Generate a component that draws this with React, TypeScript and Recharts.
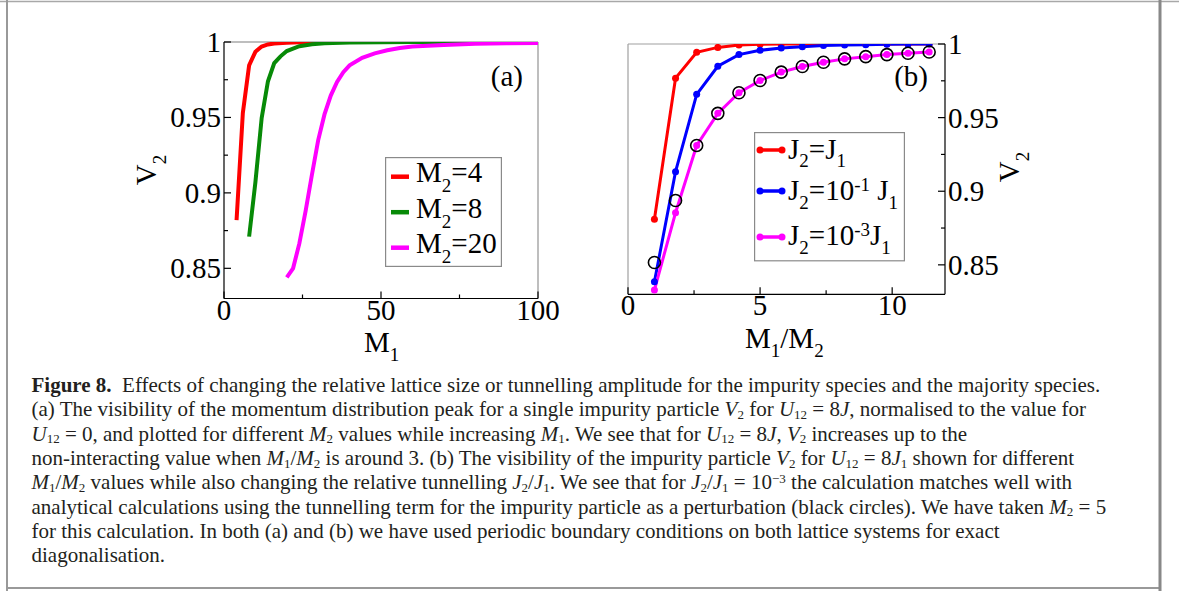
import { Legend, Line, LineChart, ReferenceLine, XAxis, YAxis } from "recharts";

const FONT = "'Liberation Serif', 'Times New Roman', serif";

// panel (a): V2 against M1 for different M2
const m1Red = [4, 6, 8, 10, 12, 14, 16, 20, 24, 30, 40, 60, 80, 100];
const v2Red = [0.882, 0.953, 0.9845, 0.9935, 0.997, 0.9984, 0.999, 0.9995, 0.9998, 1, 1, 1, 1, 1];
const m1Green = [8, 10, 12, 14, 16, 18, 20, 24, 28, 32, 40, 50, 60, 80, 100];
const v2Green = [0.871, 0.907, 0.9497, 0.974, 0.986, 0.9905, 0.994, 0.9972, 0.9985, 0.9991, 0.9996, 0.9998, 1, 1, 1];
const m1Magenta = [20, 22, 24, 26, 28, 30, 32, 34, 36, 38, 40, 44, 48, 52, 56, 60, 70, 80, 90, 100];
const v2Magenta = [
  0.844, 0.85, 0.8665, 0.888, 0.912, 0.935, 0.952, 0.9645, 0.9735, 0.98, 0.9845, 0.9895, 0.9925,
  0.9945, 0.996, 0.997, 0.998, 0.9988, 0.9991, 0.9993,
];

// panel (b): V2 against M1/M2 (M2 = 5) for different J2/J1
const ratio = [1, 1.8, 2.6, 3.4, 4.2, 5, 5.8, 6.6, 7.4, 8.2, 9, 9.8, 10.6, 11.4];
const vJ1 = [0.881, 0.9768, 0.9944, 0.9977, 0.9993, 0.9998, 1, 1, 1, 1, 1, 1, 1, 1];
const vJ1e1 = [0.8385, 0.9133, 0.9658, 0.9849, 0.9928, 0.9957, 0.9973, 0.9982, 0.9989, 0.9993, 0.9995, 0.9998, 1, 1];
const vJ1e3 = [0.8329, 0.8854, 0.9311, 0.9529, 0.9669, 0.9752, 0.9809, 0.9847, 0.9876, 0.9899, 0.9914, 0.9928, 0.9937, 0.9946];
const vPert = [0.8516, 0.8937, 0.9311, 0.9529, 0.9669, 0.9752, 0.9809, 0.9847, 0.9876, 0.9899, 0.9914, 0.9928, 0.9937, 0.9946];

const yTicks = [0.85, 0.875, 0.9, 0.925, 0.95, 0.975, 1];
const yLabels = ["0.85", "", "0.9", "", "0.95", "", "1"];
const xTicksA = [0, 25, 50, 75, 100];
const xLabelsA = ["0", "", "50", "", "100"];
const xTicksB = [0, 2.5, 5, 7.5, 10];
const xLabelsB = ["0", "", "5", "", "10"];

const seriesA = [
  { m2: "4", color: "#ff0000", xs: m1Red, ys: v2Red },
  { m2: "8", color: "#078a07", xs: m1Green, ys: v2Green },
  { m2: "20", color: "#ff00ff", xs: m1Magenta, ys: v2Magenta },
];

const dataB = ratio.map((x, i) => ({ x, j1: vJ1[i], j1e1: vJ1e1[i], j1e3: vJ1e3[i], pert: vPert[i] }));

const BIG = 29;

type Seg = string | { t: string; i?: boolean; b?: boolean; sub?: boolean; sup?: boolean };

function Rich({ x, y, size, segs, subSize, subDy, supDy = 0, anchor, transform, fill = "#000" }: any) {
  let cur = 0;
  return (
    <text
      x={x}
      y={y}
      fontSize={size}
      fontFamily={FONT}
      fill={fill}
      textAnchor={anchor}
      transform={transform}
      style={{ whiteSpace: "pre" }}
    >
      {segs.map((s: Seg, k: number) => {
        const g = typeof s === "string" ? { t: s } : s;
        const target = g.sub ? subDy : g.sup ? supDy : 0;
        const dy = target - cur;
        cur = target;
        return (
          <tspan
            key={k}
            dy={dy || undefined}
            fontStyle={g.i ? "italic" : undefined}
            fontWeight={g.b ? "bold" : undefined}
            fontSize={g.sub || g.sup ? subSize : undefined}
          >
            {g.t}
          </tspan>
        );
      })}
    </text>
  );
}

// tick marks point into the plot, minor ones shorter
const makeYTick = (axisX: number, dir: number) => (props: any) => {
  const { y, payload } = props;
  const i = yTicks.indexOf(payload.value);
  const label = yLabels[i];
  return (
    <g>
      <line x1={axisX} x2={axisX + dir * (label ? 7 : 4)} y1={y} y2={y} stroke="#000" strokeWidth={1.2} />
      {label && (
        <text
          x={axisX - dir * 3}
          y={y + 10}
          textAnchor={dir > 0 ? "end" : "start"}
          fontSize={BIG}
          fontFamily={FONT}
          fill="#000"
        >
          {label}
        </text>
      )}
    </g>
  );
};

const makeXTick = (axisY: number, ticks: number[], labels: string[]) => (props: any) => {
  const { x, payload } = props;
  const label = labels[ticks.indexOf(payload.value)];
  return (
    <g>
      <line x1={x} x2={x} y1={axisY} y2={axisY - (label ? 7 : 4)} stroke="#000" strokeWidth={1.2} />
      {label && (
        <text x={x} y={axisY + 21} textAnchor="middle" fontSize={BIG} fontFamily={FONT} fill="#000">
          {label}
        </text>
      )}
    </g>
  );
};

const LegendA = () => (
  <svg width={117} height={110} style={{ display: "block" }}>
    <rect x={0.6} y={0.6} width={115.8} height={108.8} fill="#fff" stroke="#8a8a8a" strokeWidth={1.2} />
    {seriesA.map((s, k) => (
      <g key={s.m2}>
        <line x1={6} x2={24} y1={19.7 + 35.5 * k} y2={19.7 + 35.5 * k} stroke={s.color} strokeWidth={4.5} />
        <Rich x={31} y={25 + 35.5 * k} size={BIG} subSize={19} subDy={10} segs={["M", { t: "2", sub: true }, "=" + s.m2]} />
      </g>
    ))}
  </svg>
);

const legendB = [
  { color: "#ff0000", y: 18, base: 26.5, segs: ["J", { t: "2", sub: true }, "=J", { t: "1", sub: true }] },
  {
    color: "#0000ff",
    y: 59,
    base: 68,
    segs: ["J", { t: "2", sub: true }, "=10", { t: "-1", sup: true }, " J", { t: "1", sub: true }],
  },
  {
    color: "#ff00ff",
    y: 105,
    base: 113,
    segs: ["J", { t: "2", sub: true }, "=10", { t: "-3", sup: true }, "J", { t: "1", sub: true }],
  },
];

const LegendB = () => (
  <svg width={151} height={130} style={{ display: "block" }}>
    <rect x={0.6} y={0.6} width={149.8} height={128.2} fill="#fff" stroke="#8a8a8a" strokeWidth={1.2} />
    {legendB.map((r, k) => (
      <g key={k}>
        <line x1={6} x2={28} y1={r.y} y2={r.y} stroke={r.color} strokeWidth={3.5} />
        <circle cx={6} cy={r.y} r={3.5} fill={r.color} />
        <circle cx={28} cy={r.y} r={3.5} fill={r.color} />
        <Rich x={34} y={r.base} size={BIG} subSize={19} subDy={8.5} supDy={-9} segs={r.segs} />
      </g>
    ))}
  </svg>
);

const caption: Seg[][] = [
  [{ t: "Figure 8.", b: true }, "  Effects of changing the relative lattice size or tunnelling amplitude for the impurity species and the majority species."],
  [
    "(a) The visibility of the momentum distribution peak for a single impurity particle ",
    { t: "V", i: true }, { t: "2", sub: true }, " for ", { t: "U", i: true }, { t: "12", sub: true },
    " = 8", { t: "J", i: true }, ", normalised to the value for",
  ],
  [
    { t: "U", i: true }, { t: "12", sub: true }, " = 0, and plotted for different ", { t: "M", i: true },
    { t: "2", sub: true }, " values while increasing ", { t: "M", i: true }, { t: "1", sub: true },
    ". We see that for ", { t: "U", i: true }, { t: "12", sub: true }, " = 8", { t: "J", i: true }, ", ",
    { t: "V", i: true }, { t: "2", sub: true }, " increases up to the",
  ],
  [
    "non-interacting value when ", { t: "M", i: true }, { t: "1", sub: true }, "/", { t: "M", i: true },
    { t: "2", sub: true }, " is around 3. (b) The visibility of the impurity particle ", { t: "V", i: true },
    { t: "2", sub: true }, " for ", { t: "U", i: true }, { t: "12", sub: true }, " = 8", { t: "J", i: true },
    { t: "1", sub: true }, " shown for different",
  ],
  [
    { t: "M", i: true }, { t: "1", sub: true }, "/", { t: "M", i: true }, { t: "2", sub: true },
    " values while also changing the relative tunnelling ", { t: "J", i: true }, { t: "2", sub: true }, "/",
    { t: "J", i: true }, { t: "1", sub: true }, ". We see that for ", { t: "J", i: true }, { t: "2", sub: true },
    "/", { t: "J", i: true }, { t: "1", sub: true }, " = 10", { t: "\u22123", sup: true },
    " the calculation matches well with",
  ],
  [
    "analytical calculations using the tunnelling term for the impurity particle as a perturbation (black circles). We have taken ",
    { t: "M", i: true }, { t: "2", sub: true }, " = 5",
  ],
  ["for this calculation. In both (a) and (b) we have used periodic boundary conditions on both lattice systems for exact"],
  ["diagonalisation."],
];

export default function App() {
  return (
    <div
      style={{
        position: "absolute",
        left: 0,
        top: 0,
        width: 1179,
        height: 591,
        background: "#fff",
        overflow: "hidden",
        fontFamily: FONT,
      }}
    >
      <div style={{ position: "absolute", left: 0, top: 0 }}>
        <LineChart width={560} height={370} margin={{ top: 42, right: 22, bottom: 41.5, left: 164 }}>
          <ReferenceLine y={1} stroke="#a8a8a8" strokeWidth={1.5} />
          <ReferenceLine x={100} stroke="#a8a8a8" strokeWidth={1.5} />
          <XAxis
            type="number"
            dataKey="x"
            domain={[0, 100]}
            ticks={xTicksA}
            interval={0}
            height={30}
            tickLine={false}
            tick={makeXTick(298.5, xTicksA, xLabelsA)}
            axisLine={{ stroke: "#000", strokeWidth: 1.2 }}
            allowDataOverflow
          />
          <YAxis
            type="number"
            domain={[0.83, 1]}
            ticks={yTicks}
            interval={0}
            width={60}
            tickLine={false}
            tick={makeYTick(224, 1)}
            axisLine={{ stroke: "#000", strokeWidth: 1.2 }}
            allowDataOverflow
          />
          {seriesA.map((s) => (
            <Line
              key={s.m2}
              data={s.xs.map((x, i) => ({ x, v: s.ys[i] }))}
              dataKey="v"
              stroke={s.color}
              strokeWidth={4}
              dot={false}
              activeDot={false}
              isAnimationActive={false}
            />
          ))}
          <Legend
            content={LegendA}
            layout="horizontal"
            verticalAlign="middle"
            align="center"
            wrapperStyle={{ left: 385, top: 157, width: 117, height: 110 }}
          />
        </LineChart>
      </div>

      <div style={{ position: "absolute", left: 560, top: 0 }}>
        <LineChart width={560} height={370} data={dataB} margin={{ top: 44, right: 115, bottom: 45.7, left: 68 }}>
          <ReferenceLine y={1} stroke="#a0a0a0" strokeWidth={1.2} />
          <ReferenceLine x={0} stroke="#a0a0a0" strokeWidth={1.2} />
          <XAxis
            type="number"
            dataKey="x"
            domain={[0, 12]}
            ticks={xTicksB}
            interval={0}
            height={30}
            tickLine={false}
            tick={makeXTick(294.3, xTicksB, xLabelsB)}
            axisLine={{ stroke: "#000", strokeWidth: 1.2 }}
            allowDataOverflow
          />
          <YAxis
            type="number"
            orientation="right"
            domain={[0.83, 1]}
            ticks={yTicks}
            interval={0}
            width={60}
            tickLine={false}
            tick={makeYTick(385, -1)}
            axisLine={{ stroke: "#000", strokeWidth: 1.2 }}
            allowDataOverflow
          />
          <Line dataKey="j1" stroke="#ff0000" strokeWidth={3} dot={{ r: 3.5, fill: "#ff0000", stroke: "none" }} activeDot={false} isAnimationActive={false} />
          <Line dataKey="j1e1" stroke="#0000ff" strokeWidth={3} dot={{ r: 3.5, fill: "#0000ff", stroke: "none" }} activeDot={false} isAnimationActive={false} />
          <Line dataKey="j1e3" stroke="#ff00ff" strokeWidth={3} dot={{ r: 3.5, fill: "#ff00ff", stroke: "none" }} activeDot={false} isAnimationActive={false} />
          <Line dataKey="pert" stroke="none" dot={{ r: 6, fill: "none", stroke: "#000", strokeWidth: 1.6 }} activeDot={false} isAnimationActive={false} />
          <Legend
            content={LegendB}
            layout="horizontal"
            verticalAlign="middle"
            align="center"
            wrapperStyle={{ left: 194, top: 132, width: 151, height: 130 }}
          />
        </LineChart>
      </div>

      <svg width={1179} height={591} style={{ position: "absolute", left: 0, top: 0, pointerEvents: "none" }}>
        {/* figure frame */}
        <line x1={0} x2={1179} y1={1.5} y2={1.5} stroke="#a8a8a8" strokeWidth={1.5} />
        <line x1={7} x2={7} y1={0} y2={591} stroke="#999" strokeWidth={2} />
        <line x1={7} x2={1160} y1={588} y2={588} stroke="#999" strokeWidth={2} />
        <line x1={1160} x2={1160} y1={0} y2={591} stroke="#888" strokeWidth={3} />

        {/* axis titles and panel tags */}
        <Rich x={156} y={170} size={BIG} subSize={19} subDy={10} anchor="middle" transform="rotate(-90 156 170)" segs={["V", { t: "2", sub: true }]} />
        <Rich x={364} y={352} size={BIG} subSize={19} subDy={9} segs={["M", { t: "1", sub: true }]} />
        <Rich x={523} y={86} size={BIG} anchor="end" segs={["(a)"]} />
        <Rich x={1019} y={167} size={BIG} subSize={19} subDy={10} anchor="middle" transform="rotate(-90 1019 167)" segs={["V", { t: "2", sub: true }]} />
        <Rich x={745} y={347.5} size={BIG} subSize={19} subDy={9} segs={["M", { t: "1", sub: true }, "/M", { t: "2", sub: true }]} />
        <Rich x={928} y={86} size={BIG} anchor="end" segs={["(b)"]} />

        {/* caption */}
        {caption.map((segs, k) => (
          <Rich
            key={k}
            x={31.5}
            y={392 + 24.3 * k}
            size={21}
            subSize={13}
            subDy={2.6}
            supDy={-6.5}
            fill="#231f20"
            segs={segs}
          />
        ))}
      </svg>
    </div>
  );
}
